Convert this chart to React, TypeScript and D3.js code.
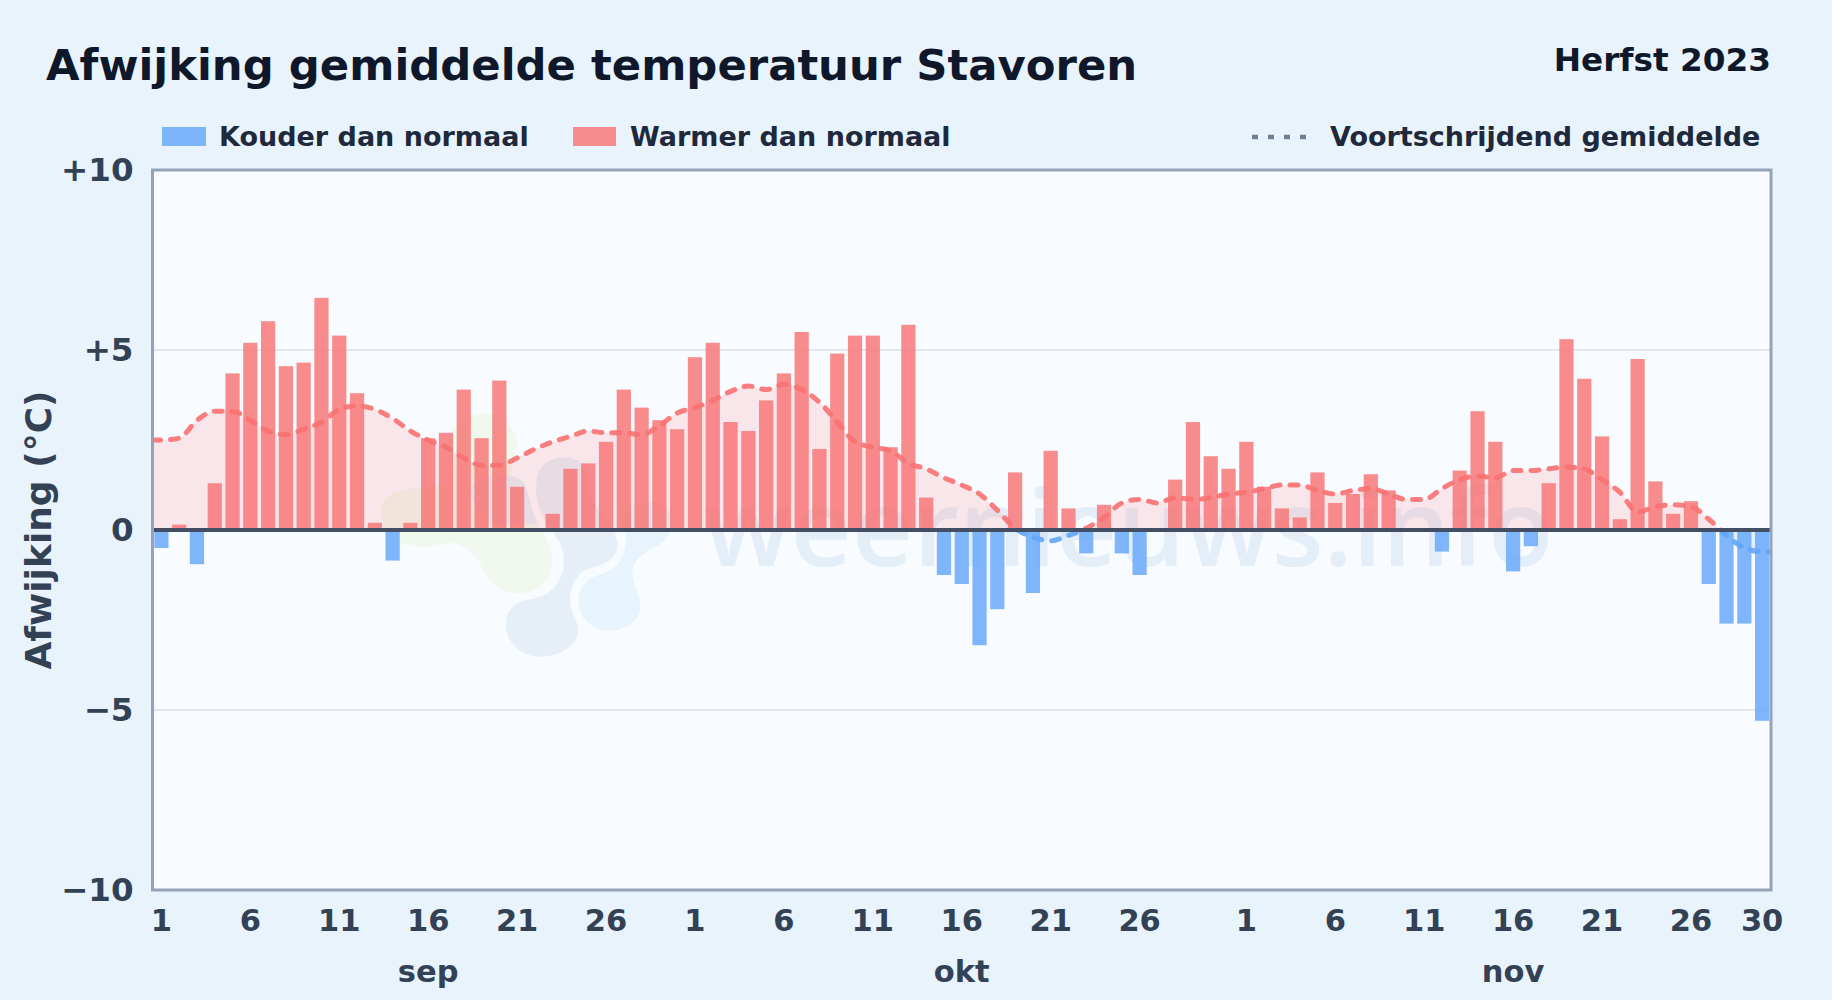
import { useEffect, useRef } from 'react';
import * as d3 from 'd3';

const W = 1832;
const H = 1000;

const sepValues = [
  -0.5, 0.15, -0.95, 1.3, 4.35, 5.2, 5.8, 4.55, 4.65, 6.45, 5.4, 3.8, 0.2, -0.85, 0.2,
  2.55, 2.7, 3.9, 2.55, 4.15, 1.2, -0.05, 0.45, 1.7, 1.85, 2.45, 3.9, 3.4, 3.05, 2.8,
];
const oktValues = [
  4.8, 5.2, 3.0, 2.75, 3.6, 4.35, 5.5, 2.25, 4.9, 5.4, 5.4, 2.3, 5.7, 0.9, -1.25, -1.5,
  -3.2, -2.2, 1.6, -1.75, 2.2, 0.6, -0.65, 0.7, -0.65, -1.25, 0, 1.4, 3.0, 2.05, 1.7,
];
const novValues = [
  2.45, 1.2, 0.6, 0.35, 1.6, 0.75, 1.0, 1.55, 1.1, 0, 0, -0.6, 1.65, 3.3, 2.45,
  -1.15, -0.45, 1.3, 5.3, 4.2, 2.6, 0.3, 4.75, 1.35, 0.45, 0.8, -1.5, -2.6, -2.6, -5.3,
];
const sepAvg = [
  2.5, 2.55, 3.05, 3.3, 3.3, 3.05, 2.75, 2.65, 2.8, 3.0, 3.35, 3.45, 3.35, 3.1, 2.75,
  2.5, 2.3, 2.0, 1.8, 1.8, 2.0, 2.25, 2.45, 2.6, 2.75, 2.7, 2.7, 2.65, 2.9, 3.25,
];
const oktAvg = [
  3.4, 3.6, 3.85, 4.0, 3.9, 4.05, 3.9, 3.55, 3.0, 2.45, 2.3, 2.2, 1.85, 1.7, 1.45, 1.25,
  1.0, 0.55, 0.05, -0.2, -0.3, -0.15, 0.05, 0.35, 0.75, 0.85, 0.75, 0.9, 0.85, 0.9, 1.0,
];
const novAvg = [
  1.05, 1.15, 1.25, 1.25, 1.1, 1.0, 1.1, 1.15, 1.0, 0.85, 0.85, 1.15, 1.4, 1.5, 1.45,
  1.65, 1.65, 1.7, 1.75, 1.7, 1.4, 1.05, 0.5, 0.65, 0.7, 0.65, 0.3, -0.15, -0.5, -0.6,
];
const months = [
  { name: 'sep', days: sepValues.length },
  { name: 'okt', days: oktValues.length },
  { name: 'nov', days: novValues.length },
];
const dayTicks = [1, 6, 11, 16, 21, 26];
const yTicks = [10, 5, 0, -5, -10];

const BLUE = '#60a5fa';
const RED = '#f87171';
const FONT = '"DejaVu Sans", sans-serif';

// watermark logo shapes
const LOGO_BLOBS = [
  {
    fill: '#f1f8ee',
    d: 'M430 40 C490 40 535 90 530 135 C525 185 505 210 520 255 C535 300 590 350 625 430 C655 500 630 575 535 580 C470 582 440 530 420 490 C400 450 360 425 320 430 C270 445 200 450 160 410 C110 360 110 300 160 280 C220 255 290 270 320 240 C345 210 315 170 325 120 C335 75 375 40 430 40 Z',
  },
  {
    fill: '#e6eff8',
    d: 'M600 770 C540 770 495 720 498 670 C500 625 530 605 570 598 C620 590 670 560 672 480 C672 440 650 410 620 370 C590 320 585 290 590 240 C595 190 640 170 680 172 C740 178 760 230 740 270 C780 350 830 380 832 430 C835 480 790 495 750 505 C710 515 690 560 690 600 C690 640 715 660 715 690 C715 735 660 770 600 770 Z',
  },
  {
    fill: '#e6eff8',
    d: 'M400 250 C430 225 510 215 545 240 C570 265 565 320 595 370 C560 375 520 380 470 370 C420 360 380 300 400 250 Z',
  },
  {
    fill: '#e7f4fd',
    d: 'M810 692 C760 692 725 660 716 615 C708 570 735 540 775 525 C820 515 850 490 858 430 C862 395 850 370 830 340 C860 300 960 290 990 340 C1010 400 970 430 930 450 C890 470 872 500 878 530 C885 570 905 600 900 630 C890 670 850 692 810 692 Z',
  },
];

export default function App() {
  const svgRef = useRef<SVGSVGElement>(null);

  useEffect(() => {
    if (!svgRef.current) return;
    const svg = d3.select(svgRef.current);
    svg.selectAll('*').remove();

    const margin = { left: 152.5, right: 61, top: 170, bottom: 110 };
    const innerRight = W - margin.right;
    const innerBottom = H - margin.bottom;

    const values = [...sepValues, ...oktValues, ...novValues];
    const avg = [...sepAvg, ...oktAvg, ...novAvg];
    const indices = d3.range(values.length);

    const x = d3.scaleBand<number>().domain(indices).range([margin.left, innerRight]).paddingInner(0.2).paddingOuter(0.1);
    const y = d3.scaleLinear().domain([-10, 10]).range([innerBottom, margin.top]);
    const cx = (i: number) => (x(i) || 0) + x.bandwidth() / 2;

    svg.append('rect').attr('width', W).attr('height', H).attr('fill', '#e8f3fc');

    const defs = svg.append('defs');
    defs.append('clipPath').attr('id', 'clip-pos').append('rect')
      .attr('x', margin.left).attr('y', margin.top)
      .attr('width', innerRight - margin.left).attr('height', y(0) - margin.top);
    defs.append('clipPath').attr('id', 'clip-neg').append('rect')
      .attr('x', margin.left).attr('y', y(0))
      .attr('width', innerRight - margin.left).attr('height', innerBottom - y(0));

    // plot background
    svg.append('rect')
      .attr('x', margin.left).attr('y', margin.top)
      .attr('width', innerRight - margin.left).attr('height', innerBottom - margin.top)
      .attr('fill', '#f8fbff');

    // watermark
    const wm = svg.append('g');
    const logo = wm.append('g').attr('transform', 'translate(340,400) scale(0.3333)');
    LOGO_BLOBS.forEach((b) => logo.append('path').attr('d', b.d).attr('fill', b.fill));
    wm.append('text')
      .attr('x', 704).attr('y', 566)
      .attr('font-family', '"Open Sans", sans-serif').attr('font-size', 106.3).attr('font-weight', 600)
      .attr('fill', '#e4eef9').text('weernieuws.info');

    // grid
    [5, -5].forEach((t) => {
      svg.append('line')
        .attr('x1', margin.left).attr('x2', innerRight).attr('y1', y(t)).attr('y2', y(t))
        .attr('stroke', '#e2e8f0').attr('stroke-width', 2);
    });

    // the running mean runs on to the plot edges
    const last = avg.length - 1;
    const meanPoints = [
      { px: margin.left, v: avg[0] },
      ...indices.map((i) => ({ px: cx(i), v: avg[i] })),
      { px: innerRight, v: avg[last] },
    ];

    const area = d3.area<{ px: number; v: number }>()
      .x((d) => d.px)
      .y0(y(0))
      .y1((d) => y(d.v))
      .curve(d3.curveMonotoneX);
    svg.append('path').attr('d', area(meanPoints)).attr('clip-path', 'url(#clip-pos)')
      .attr('fill', RED).attr('fill-opacity', 0.15);
    svg.append('path').attr('d', area(meanPoints)).attr('clip-path', 'url(#clip-neg)')
      .attr('fill', BLUE).attr('fill-opacity', 0.12);

    // bars
    svg.append('g').selectAll('rect').data(indices).enter().append('rect')
      .attr('x', (i) => x(i) || 0)
      .attr('width', x.bandwidth())
      .attr('y', (i) => y(Math.max(0, values[i])))
      .attr('height', (i) => Math.abs(y(values[i]) - y(0)))
      .attr('fill', (i) => (values[i] < 0 ? BLUE : RED))
      .attr('fill-opacity', 0.8);

    // running mean
    const line = d3.line<{ px: number; v: number }>().x((d) => d.px).y((d) => y(d.v)).curve(d3.curveMonotoneX);
    [{ clip: 'url(#clip-pos)', color: RED }, { clip: 'url(#clip-neg)', color: BLUE }].forEach((s) => {
      svg.append('path').attr('d', line(meanPoints)).attr('clip-path', s.clip)
        .attr('fill', 'none').attr('stroke', s.color).attr('stroke-width', 5).attr('stroke-opacity', 0.9)
        .attr('stroke-dasharray', '8,10').attr('stroke-linecap', 'round');
    });

    // zero line
    svg.append('line')
      .attr('x1', margin.left).attr('x2', innerRight).attr('y1', y(0)).attr('y2', y(0))
      .attr('stroke', '#414e63').attr('stroke-width', 4);

    // frame
    svg.append('rect')
      .attr('x', margin.left).attr('y', margin.top)
      .attr('width', innerRight - margin.left).attr('height', innerBottom - margin.top)
      .attr('fill', 'none').attr('stroke', '#94a3b8').attr('stroke-width', 3);

    // y axis
    const fmtY = (t: number) => (t > 0 ? `+${t}` : t < 0 ? `\u2212${-t}` : '0');
    const yAxis = svg.append('g').attr('transform', `translate(${margin.left},0)`)
      .call(d3.axisLeft(y).tickValues(yTicks).tickFormat((d) => fmtY(+d)).tickSize(0).tickPadding(19));
    yAxis.select('.domain').remove();
    yAxis.selectAll('text')
      .attr('font-family', FONT).attr('font-size', 32.5).attr('font-weight', 700).attr('fill', '#334155');

    svg.append('text')
      .attr('transform', `translate(51,${y(0)}) rotate(-90)`)
      .attr('text-anchor', 'middle')
      .attr('font-family', FONT).attr('font-size', 36).attr('font-weight', 700).attr('fill', '#334155')
      .text('Afwijking (°C)');

    // x axis labels
    let start = 0;
    months.forEach((m) => {
      const ticks = [...dayTicks];
      if (m.name === 'nov') ticks.push(30);
      ticks.forEach((day) => {
        svg.append('text')
          .attr('x', cx(start + day - 1)).attr('y', 931)
          .attr('text-anchor', 'middle')
          .attr('font-family', FONT).attr('font-size', 30.5).attr('font-weight', 700).attr('fill', '#334155')
          .text(day);
      });
      svg.append('text')
        .attr('x', cx(start + 15)).attr('y', 982)
        .attr('text-anchor', 'middle')
        .attr('font-family', FONT).attr('font-size', 30.5).attr('font-weight', 700).attr('fill', '#334155')
        .text(m.name);
      start += m.days;
    });

    // titles
    svg.append('text').attr('x', 46).attr('y', 80)
      .attr('font-family', FONT).attr('font-size', 43.35).attr('font-weight', 700).attr('fill', '#0f172a')
      .text('Afwijking gemiddelde temperatuur Stavoren');
    svg.append('text').attr('x', 1771).attr('y', 71).attr('text-anchor', 'end')
      .attr('font-family', FONT).attr('font-size', 32.7).attr('font-weight', 700).attr('fill', '#0f172a')
      .text('Herfst 2023');

    // legend
    const legendText = (tx: number, label: string) =>
      svg.append('text').attr('x', tx).attr('y', 146)
        .attr('font-family', FONT).attr('font-size', 27).attr('font-weight', 700).attr('fill', '#1e293b')
        .text(label);
    svg.append('rect').attr('x', 162).attr('y', 127).attr('width', 44).attr('height', 19).attr('fill', BLUE).attr('fill-opacity', 0.8);
    legendText(219, 'Kouder dan normaal');
    svg.append('rect').attr('x', 573).attr('y', 127).attr('width', 43).attr('height', 19).attr('fill', RED).attr('fill-opacity', 0.8);
    legendText(630, 'Warmer dan normaal');
    svg.append('line').attr('x1', 1252).attr('x2', 1307).attr('y1', 137).attr('y2', 137)
      .attr('stroke', '#64748b').attr('stroke-width', 4.5).attr('stroke-opacity', 0.9).attr('stroke-dasharray', '6,10');
    legendText(1330, 'Voortschrijdend gemiddelde');
  }, []);

  return <svg ref={svgRef} width={W} height={H} style={{ position: 'absolute', left: 0, top: 0 }} />;
}
